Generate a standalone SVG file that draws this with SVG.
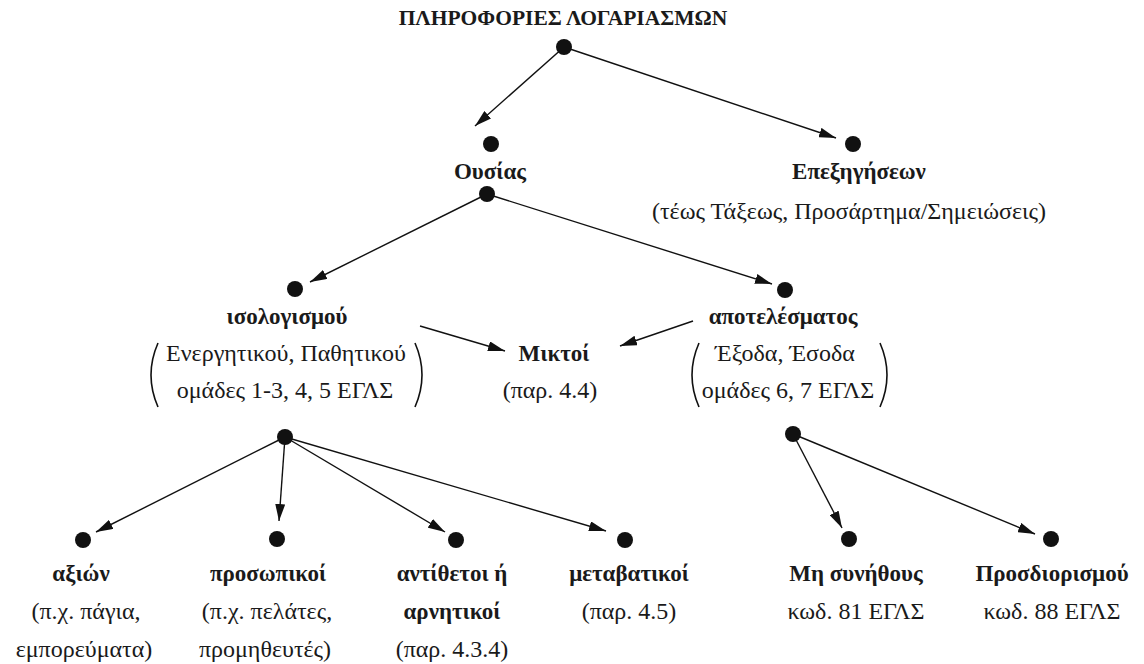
<svg xmlns="http://www.w3.org/2000/svg" width="1144" height="664" viewBox="0 0 1144 664">
<defs>
<style>
text{fill:#1a1a1a;text-anchor:middle;font-size:24px}
.b{font-weight:bold;font-size:23px}
.t{font-size:21.5px;font-weight:bold}
.dot{fill:#111}
.c line{stroke:#111;stroke-width:1.4;marker-end:url(#ah)}
.p{fill:none;stroke:#111;stroke-width:1.6}
</style>
<marker id="ah" markerUnits="userSpaceOnUse" markerWidth="18" markerHeight="10" refX="17" refY="5" orient="auto">
<path d="M0,0 L17,5 L0,10 z" fill="#111"/>
</marker>
</defs>
<rect width="1144" height="664" fill="#fff"/>
<g font-family="'Liberation Serif', 'Times New Roman', 'DejaVu Serif', serif">
<g id="connectors" class="c">
<line x1="564" y1="47" x2="475" y2="126"/>
<line x1="564" y1="47" x2="836" y2="138"/>
<line x1="487" y1="194" x2="310" y2="282"/>
<line x1="487" y1="194" x2="772" y2="284"/>
<line x1="420" y1="326" x2="505" y2="351"/>
<line x1="693" y1="321" x2="620" y2="346"/>
<line x1="285" y1="437" x2="96" y2="532"/>
<line x1="285" y1="437" x2="279" y2="521"/>
<line x1="285" y1="437" x2="445" y2="532"/>
<line x1="285" y1="437" x2="606" y2="531"/>
<line x1="793" y1="434" x2="842" y2="528"/>
<line x1="793" y1="434" x2="1035" y2="534"/>
</g>
<g id="root"><circle class="dot" cx="564" cy="47" r="8"/><text class="t" x="563" y="25">ΠΛΗΡΟΦΟΡΙΕΣ ΛΟΓΑΡΙΑΣΜΩΝ</text></g>
<g id="ousias"><circle class="dot" cx="491" cy="144" r="8"/><text class="b" x="490" y="179">Ουσίας</text><circle class="dot" cx="487" cy="194" r="8"/></g>
<g id="epexigiseon"><circle class="dot" cx="853" cy="144" r="8"/><text class="b" x="859" y="179">Επεξηγήσεων</text><text x="849" y="219">(τέως Τάξεως, Προσάρτημα/Σημειώσεις)</text></g>
<g id="isologismou"><circle class="dot" cx="295" cy="289" r="8"/><text class="b" x="287" y="324">ισολογισμού</text><text x="286" y="361">Ενεργητικού, Παθητικού</text><text x="285" y="398">ομάδες 1-3, 4, 5 ΕΓΛΣ</text>
<path class="p" d="M158,343 Q144,375 158,407"/><path class="p" d="M415,343 Q429,375 415,407"/>
<circle class="dot" cx="285" cy="437" r="8"/></g>
<g id="miktoi"><text class="b" x="554" y="361">Μικτοί</text><text x="550" y="398">(παρ. 4.4)</text></g>
<g id="apotelesmatos"><circle class="dot" cx="785" cy="290" r="8"/><text class="b" x="783" y="324">αποτελέσματος</text><text x="785" y="361">Έξοδα, Έσοδα</text><text x="788" y="398">ομάδες 6, 7 ΕΓΛΣ</text>
<path class="p" d="M699,343 Q685,375 699,407"/><path class="p" d="M880,343 Q894,375 880,407"/>
<circle class="dot" cx="793" cy="434" r="8"/></g>
<g id="axion"><circle class="dot" cx="83" cy="540" r="8"/><text class="b" x="81" y="581">αξιών</text><text x="86" y="619">(π.χ. πάγια,</text><text x="84" y="657">εμπορεύματα)</text></g>
<g id="prosopikoi"><circle class="dot" cx="277" cy="539" r="8"/><text class="b" x="268" y="581">προσωπικοί</text><text x="267" y="619">(π.χ. πελάτες,</text><text x="265" y="657">προμηθευτές)</text></g>
<g id="antithetoi"><circle class="dot" cx="456" cy="540" r="8"/><text class="b" x="452" y="581">αντίθετοι ή</text><text class="b" x="452" y="619">αρνητικοί</text><text x="452" y="657">(παρ. 4.3.4)</text></g>
<g id="metavatikoi"><circle class="dot" cx="625" cy="540" r="8"/><text class="b" x="629" y="581">μεταβατικοί</text><text x="629" y="619">(παρ. 4.5)</text></g>
<g id="mi-synithous"><circle class="dot" cx="849" cy="539" r="8"/><text class="b" x="856" y="581">Μη συνήθους</text><text x="856" y="619">κωδ. 81 ΕΓΛΣ</text></g>
<g id="prosdiorismou"><circle class="dot" cx="1051" cy="539" r="8"/><text class="b" x="1052" y="581">Προσδιορισμού</text><text x="1052" y="619">κωδ. 88 ΕΓΛΣ</text></g>
</g>
</svg>
